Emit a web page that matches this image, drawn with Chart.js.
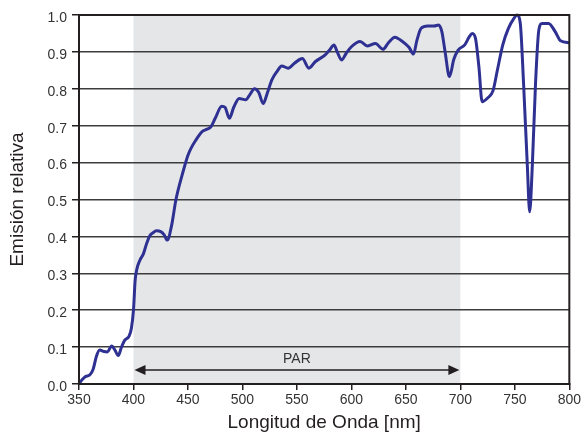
<!DOCTYPE html>
<html>
<head>
<meta charset="utf-8">
<script src="https://cdn.jsdelivr.net/npm/chart.js@4/dist/chart.umd.min.js"></script>
<style>
  html, body { margin: 0; padding: 0; background: #fff; }
  #wrap { width: 583px; height: 432px; position: relative; }
</style>
</head>
<body>
<div id="wrap"><canvas id="c" width="583" height="432"></canvas></div>
<script>
// ---- data ----
const wavelengths = [350,353,356,360,363,366,369,373,376,380,383,386,389,392,396,398,400,401.5,403,406,409,412,415,418,421,425,428,431,435,439,445,450,453,457,463,467,471,475,481,484,488,492,497,503,507,511,515,519,523,527,532,536,542,548,555,561,567,576,580,584,587,591,595,600,608,615,622,629,634,640,645,649,653,657,660,664,670,676,680,683,686,690,694,698,704,708,711,714,717,720,725,730,734,739,744,749,752,755,758,761.5,763.6,766,769,772,775,781,787,792,800];
const emission = [0.0,0.012,0.02,0.025,0.04,0.075,0.092,0.088,0.087,0.103,0.092,0.077,0.1,0.119,0.13,0.15,0.2,0.28,0.31,0.336,0.352,0.38,0.402,0.41,0.415,0.413,0.405,0.39,0.43,0.50,0.57,0.62,0.64,0.66,0.684,0.69,0.697,0.72,0.753,0.75,0.72,0.75,0.774,0.77,0.785,0.80,0.79,0.76,0.79,0.824,0.848,0.862,0.856,0.87,0.882,0.856,0.874,0.892,0.905,0.919,0.9,0.878,0.895,0.914,0.928,0.916,0.923,0.907,0.925,0.94,0.932,0.923,0.912,0.894,0.93,0.964,0.970,0.970,0.973,0.955,0.9,0.833,0.88,0.905,0.919,0.94,0.95,0.935,0.86,0.765,0.775,0.795,0.851,0.92,0.963,0.99,1.0,0.977,0.815,0.589,0.467,0.589,0.815,0.959,0.977,0.977,0.955,0.93,0.925];
const xTicks = [350,400,450,500,550,600,650,700,750,800];
const yTicks = [0.0,0.1,0.2,0.3,0.4,0.5,0.6,0.7,0.8,0.9,1.0];
const parRange = [400, 700];
const parLabel = 'PAR';
const parArrowLevel = 0.038;
const xTitle = 'Longitud de Onda [nm]';
const yTitle = 'Emisión relativa';

const points = wavelengths.map((w, i) => ({x: w, y: emission[i]}));
const FONT = "'Liberation Sans', Arial, Helvetica, sans-serif";

const parPlugin = {
  id: 'par',
  beforeDraw(chart) {
    const {ctx, chartArea, scales: {x}} = chart;
    const x0 = x.getPixelForValue(parRange[0]);
    const x1 = x.getPixelForValue(parRange[1]);
    ctx.save();
    ctx.fillStyle = '#e5e6e8';
    ctx.fillRect(x0, chartArea.top, x1 - x0, chartArea.bottom - chartArea.top);
    ctx.restore();
  },
  afterDatasetsDraw(chart) {
    const {ctx, chartArea, scales: {x, y}} = chart;
    const x0 = x.getPixelForValue(parRange[0]);
    const x1 = x.getPixelForValue(parRange[1]);
    const yy = y.getPixelForValue(parArrowLevel);
    ctx.save();
    ctx.strokeStyle = '#231f20';
    ctx.fillStyle = '#231f20';
    ctx.lineWidth = 1.5;
    ctx.beginPath();
    ctx.moveTo(x0 + 8, yy);
    ctx.lineTo(x1 - 8, yy);
    ctx.stroke();
    const hl = 11, hw = 5;
    ctx.beginPath();
    ctx.moveTo(x0 + 1, yy); ctx.lineTo(x0 + 1 + hl, yy - hw); ctx.lineTo(x0 + 1 + hl, yy + hw); ctx.closePath(); ctx.fill();
    ctx.beginPath();
    ctx.moveTo(x1 - 1, yy); ctx.lineTo(x1 - 1 - hl, yy - hw); ctx.lineTo(x1 - 1 - hl, yy + hw); ctx.closePath(); ctx.fill();
    ctx.font = '14px ' + FONT;
    ctx.fillStyle = '#333';
    ctx.textAlign = 'center';
    ctx.textBaseline = 'middle';
    ctx.fillText(parLabel, (x0 + x1) / 2, yy - 11);
    // frame
    ctx.strokeStyle = '#231f20';
    ctx.lineWidth = 2;
    ctx.strokeRect(chartArea.left, chartArea.top, chartArea.right - chartArea.left, chartArea.bottom - chartArea.top);
    ctx.restore();
  }
};

new Chart(document.getElementById('c'), {
  type: 'line',
  data: {
    datasets: [{
      data: points,
      borderColor: '#2e3192',
      borderWidth: 3,
      pointRadius: 0,
      fill: false,
      cubicInterpolationMode: 'monotone',
      clip: 4
    }]
  },
  options: {
    responsive: false,
    animation: false,
    devicePixelRatio: 1,
    layout: { padding: { top: 15, right: 11, left: 0, bottom: 0 } },
    plugins: { legend: { display: false }, tooltip: { enabled: false } },
    scales: {
      x: {
        type: 'linear',
        min: 350, max: 800,
        afterFit(s) { s.height = 48; },
        afterBuildTicks(s) { s.ticks = xTicks.map(v => ({value: v})); },
        ticks: { font: { size: 14, family: FONT }, color: '#333', padding: 2, maxRotation: 0, autoSkip: false },
        grid: { drawOnChartArea: false, drawTicks: true, tickLength: 6, tickColor: '#231f20', lineWidth: 1.5 },
        border: { display: true, color: '#231f20', width: 2 },
        title: { display: true, text: xTitle, color: '#231f20', font: { size: 19, family: FONT, lineHeight: 1 }, padding: { top: 0, bottom: 0 } }
      },
      y: {
        type: 'linear',
        min: 0, max: 1,
        afterFit(s) { s.width = 79; },
        afterBuildTicks(s) { s.ticks = yTicks.map(v => ({value: v})); },
        ticks: { font: { size: 14, family: FONT }, color: '#333', padding: 5, labelOffset: 3, callback: v => v.toFixed(1) },
        grid: { color: '#3c3c3c', lineWidth: 1.5, drawTicks: true, tickLength: 7, tickColor: '#231f20' },
        border: { display: true, color: '#231f20', width: 2 },
        title: { display: true, text: yTitle, color: '#231f20', font: { size: 19, family: FONT, lineHeight: 1 }, padding: { top: 8, bottom: 0 } }
      }
    }
  },
  plugins: [parPlugin]
});
</script>
</body>
</html>
